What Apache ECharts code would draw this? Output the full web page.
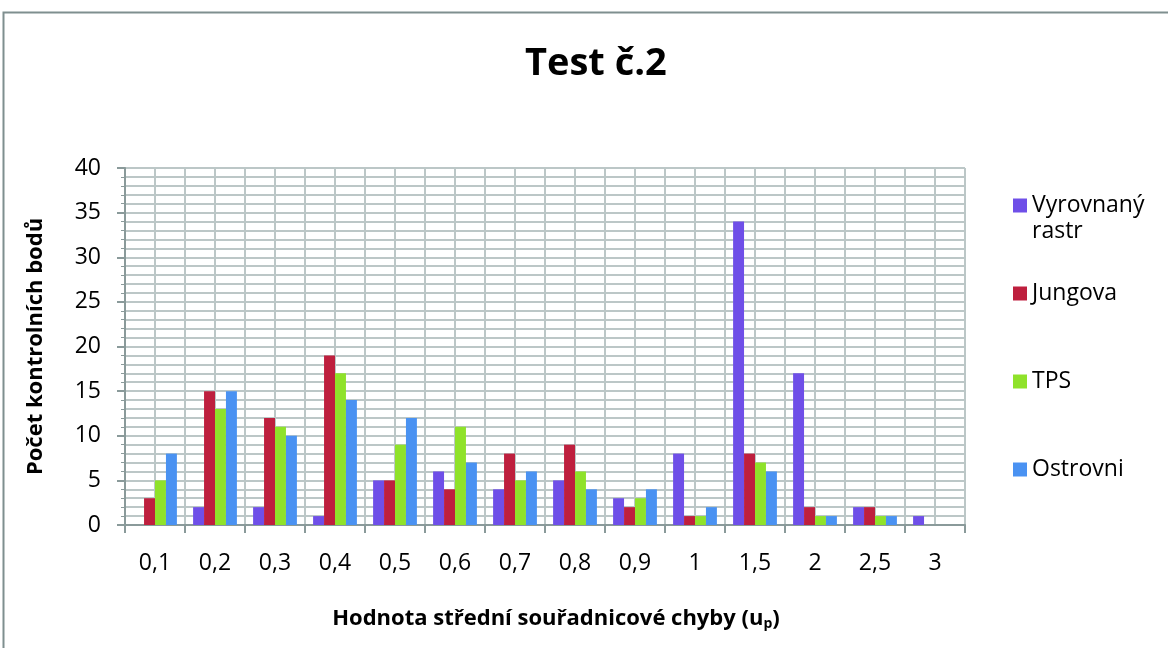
<!DOCTYPE html>
<html>
<head>
<meta charset="utf-8">
<script src="https://cdn.jsdelivr.net/npm/echarts@6/dist/echarts.min.js"></script>
<style>
html,body{margin:0;padding:0;background:#fff;}
#main{width:1168px;height:648px;}
</style>
</head>
<body>
<div id="main"></div>
<script>
var categories = ['0,1','0,2','0,3','0,4','0,5','0,6','0,7','0,8','0,9','1','1,5','2','2,5','3'];
var seriesNames = ['Vyrovnaný rastr','Jungova','TPS','Ostrovni'];
var vyrovnany = [0,2,2,1,5,6,4,5,3,8,34,17,2,1];
var jungova   = [3,15,12,19,5,4,8,9,2,1,8,2,2,0];
var tps       = [5,13,11,17,9,11,5,6,3,1,7,1,1,0];
var ostrovni  = [8,15,10,14,12,7,6,4,4,2,6,1,1,0];
var colors = ['#6F4FE8','#BE1F3E','#8FE22A','#4A92F2'];
var yTicks = [0,5,10,15,20,25,30,35,40];

var FONT = 'Open Sans';
var gridColor = '#BCC7C7';
var axisColor = '#8A9A9A';

var chart = echarts.init(document.getElementById('main'));
var dataSets = [vyrovnany, jungova, tps, ostrovni];
var series = dataSets.map(function(d, i){
  return {
    name: seriesNames[i], type: 'bar', data: d,
    xAxisIndex: 0, yAxisIndex: 0,
    barGap: '0%', barCategoryGap: '27%',
    itemStyle: {color: colors[i]},
    emphasis: {disabled: true}
  };
});
var legendTops = [189, 277, 365, 453];
var legends = seriesNames.map(function(n, i){
  return {
    data: [n], orient: 'vertical', left: 1008, top: legendTops[i],
    itemWidth: 14, itemHeight: 14, icon: 'rect', itemGap: 6,
    formatter: function(name){ return name === 'Vyrovnaný rastr' ? 'Vyrovnaný' : name; },
    textStyle: {fontFamily: FONT, fontSize: 23, color: '#000'},
    selectedMode: false
  };
});
chart.setOption({
  animation: false,
  backgroundColor: '#fff',
  title: {
    text: 'Test č.2', left: 520, top: 40,
    textStyle: {fontFamily: FONT, fontSize: 38, fontWeight: 'bold', color: '#000'}
  },
  legend: legends,
  graphic: [
    {type: 'rect', shape: {x: 3.5, y: 12.5, width: 1300, height: 800},
     style: {fill: 'none', stroke: '#7F8F8F', lineWidth: 2}, silent: true, z: -1},
    {type: 'text', left: 1032, top: 220,
     style: {text: 'rastr', font: '23px "Open Sans"', fill: '#000'}}
  ],
  grid: {left: 125, right: 203, top: 168, bottom: 123},
  xAxis: [{
    type: 'category', data: categories,
    axisLine: {lineStyle: {color: axisColor, width: 2}},
    axisTick: {show: true, length: 8, lineStyle: {color: axisColor, width: 2}},
    axisLabel: {fontFamily: FONT, fontSize: 23, color: '#000', margin: 27},
    splitLine: {show: true, lineStyle: {color: gridColor, width: 2}},
    name: '{t|Hodnota střední souřadnicové chyby (u}{s|p}{t|)}',
    nameLocation: 'middle', nameGap: 82,
    nameTextStyle: {
      padding: [0, 0, 0, 22],
      rich: {
        t: {fontFamily: FONT, fontSize: 22, fontWeight: 'bold', color: '#000'},
        s: {fontFamily: FONT, fontSize: 14, fontWeight: 'bold', color: '#000', padding: [10, 0, 0, 0]}
      }
    }
  }, {
    type: 'value', min: 0, max: 28, interval: 1, position: 'top',
    axisLine: {show: false}, axisTick: {show: false}, axisLabel: {show: false},
    splitLine: {show: true, lineStyle: {color: gridColor, width: 2}}
  }],
  yAxis: {
    type: 'value', min: 0, max: 40, interval: 5,
    axisLine: {show: true, lineStyle: {color: axisColor, width: 2}},
    axisTick: {show: true, length: 8, lineStyle: {color: axisColor, width: 2}},
    axisLabel: {fontFamily: FONT, fontSize: 23, color: '#000', margin: 24,
      formatter: function(v){ return yTicks.indexOf(v) >= 0 ? String(v) : ''; }},
    splitLine: {show: true, lineStyle: {color: gridColor, width: 2}},
    minorTick: {show: true, splitNumber: 5, length: 4, lineStyle: {color: axisColor}},
    minorSplitLine: {show: true, lineStyle: {color: gridColor, width: 2}},
    name: 'Počet kontrolních bodů', nameLocation: 'middle', nameGap: 78,
    nameTextStyle: {fontFamily: FONT, fontSize: 22, fontWeight: 'bold', color: '#000'}
  },
  series: series
});
</script>
</body>
</html>
